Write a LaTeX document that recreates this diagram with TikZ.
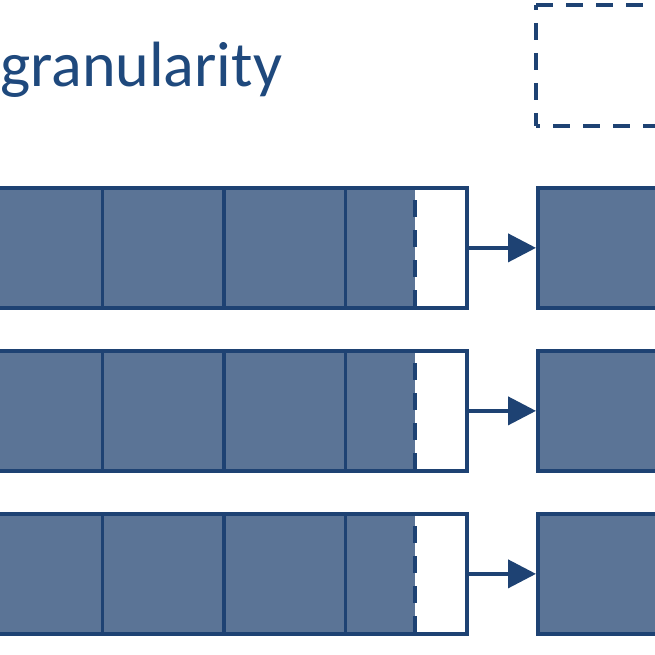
\documentclass[tikz,border=0pt]{standalone}
\usepackage{fontspec}
\setmainfont{Carlito}
\usetikzlibrary{arrows.meta}
\definecolor{bfill}{RGB}{91,116,150}
\definecolor{bline}{RGB}{30,66,115}
\definecolor{btext}{RGB}{31,73,125}
\begin{document}
\begin{tikzpicture}[x=1pt,y=-1pt,
  cell/.style={draw=bline, line width=3.75pt, fill=bfill, rectangle, inner sep=0pt,
    minimum height=120pt, minimum width=121.5pt, anchor=north west},
  cutline/.style={draw=bline, line width=4pt, dash pattern=on 17pt off 13pt, dash phase=16pt},
  dbox/.style={draw=bline, line width=4pt, dash pattern=on 17pt off 13pt},
  link/.style={draw=bline, line width=4pt, -{Triangle[length=28pt,width=28pt]}}]
\useasboundingbox (0,0) rectangle (655,655);
\clip (0,0) rectangle (655,655);
\fill[white] (0,0) rectangle (655,655);
\node[anchor=base west, inner sep=0pt, text=btext, font=\fontsize{64}{68}\selectfont] (title) at (0,87) {granularity};
\coordinate (bl) at (536,126);
\coordinate (tl) at (536,5);
\draw[dbox] (tl) -- (700,5);
\draw[dbox, dash phase=12pt] (tl) -- (bl);
\draw[dbox, dash phase=13pt] (bl) -- (700,126);
\foreach \r/\y in {1/186,2/349,3/512}{
  \node[cell] (a\r) at (-21,\y) {};
  \node[cell] (b\r) at (100.5,\y) {};
  \node[cell] (c\r) at (222,\y) {};
  \fill[bfill] (343.5,\y) rectangle (415,\y+120);
  \node[cell, fill=none] (d\r) at (343.5,\y) {};
  \draw[cutline] (415,\y) -- (415,\y+120);
  \node[cell, minimum width=200pt] (r\r) at (536,\y) {};
  \draw[link] (d\r.east) -- (r\r.west);
}
\end{tikzpicture}
\end{document}
